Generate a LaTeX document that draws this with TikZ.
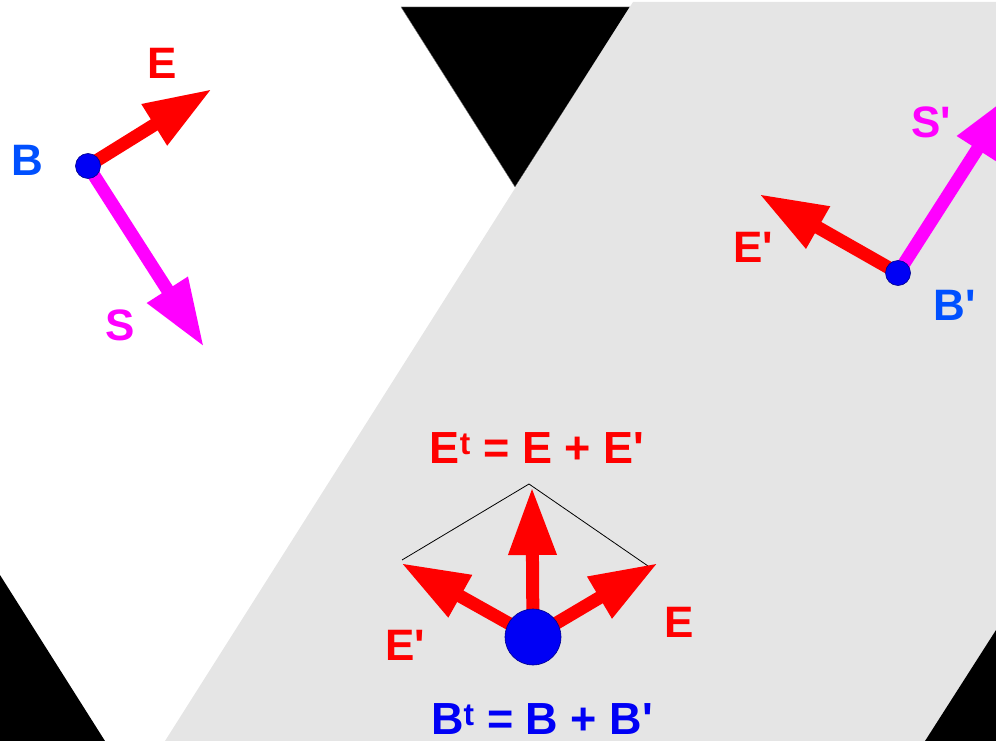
\documentclass[tikz,border=0pt]{standalone}
\usepackage{fontspec}
\setmainfont{Liberation Sans}
\usetikzlibrary{arrows.meta}
\definecolor{vecred}{RGB}{255,0,0}
\definecolor{vecmagenta}{RGB}{255,0,255}
\definecolor{dotblue}{RGB}{0,0,245}
\definecolor{labelblue}{RGB}{0,80,255}
\definecolor{sheetgray}{RGB}{229,229,229}
\newcommand{\pr}{\textquotesingle}

\begin{document}
\begin{tikzpicture}[
    x=1pt, y=-1pt,
    vec/.style={line width=13pt, -{Triangle[length=68pt, width=45pt]}},
    dot/.style={circle, fill=dotblue, draw=blue!55!black, line width=0.6pt, inner sep=0pt, minimum size=25pt},
    lbl/.style={font=\fontsize{44}{48}\selectfont\bfseries, inner sep=0pt},
    eqn/.style={font=\fontsize{45}{50}\selectfont\bfseries, inner sep=0pt}
]
  \useasboundingbox (0,0) rectangle (996,741);
  \clip (0,0) rectangle (996,741);

  \filldraw[fill=black, draw=gray] (401,7) -- (630,7) -- (515,187) -- cycle;
  \fill[black] (0,575) -- (105,741) -- (0,741) -- cycle;
  \fill[sheetgray] (633,2) -- (996,2) -- (996,630) -- (925,741) -- (165,741) -- cycle;
  \fill[black] (996,630) -- (925,741) -- (996,741) -- cycle;

  % first frame
  \coordinate (b) at (88,166);
  \coordinate (etip) at (212,89);
  \coordinate (stip) at (204,347);
  \draw[vec, vecred] (b) -- (etip);
  \draw[vec, vecmagenta] (b) -- (stip);
  \node[dot] (bdot) at (b) {};
  \node[lbl, labelblue] (blbl) at (27,160) {B};
  \node[lbl, vecred] (elbl) at (162,63) {E};
  \node[lbl, vecmagenta] (slbl) at (120,325) {S};

  % second frame
  \coordinate (bp) at (898,273);
  \coordinate (eptip) at (759,194);
  \coordinate (sptip) at (1014,92);
  \draw[vec, vecred] (bp) -- (eptip);
  \draw[vec, vecmagenta] (bp) -- (sptip);
  \node[dot] (bpdot) at (bp) {};
  \node[lbl, vecred] (eplbl) at (753,247) {E\pr};
  \node[lbl, vecmagenta] (splbl) at (931,122) {S\pr};
  \node[lbl, labelblue] (bplbl) at (955,305) {B\pr};

  % sum
  \coordinate (bt) at (533,637);
  \coordinate (ettip) at (532,487);
  \coordinate (ebtip) at (658,563);
  \coordinate (epbtip) at (401,563);
  \draw[black, line width=0.8pt] (402,560) -- (529,484) -- (648,566);
  \draw[vec, vecred] (bt) -- (ettip);
  \draw[vec, vecred] (bt) -- (ebtip);
  \draw[vec, vecred] (bt) -- (epbtip);
  \node[dot, minimum size=56pt] (btdot) at (bt) {};
  \node[eqn, vecred] (etlbl) at (537,448) {E\textsuperscript{t} = E + E\pr};
  \node[lbl, vecred] (eblbl) at (679,622) {E};
  \node[lbl, vecred] (epblbl) at (405,645) {E\pr};
  \node[eqn, dotblue] (btlbl) at (542,719) {B\textsuperscript{t} = B + B\pr};
\end{tikzpicture}
\end{document}
